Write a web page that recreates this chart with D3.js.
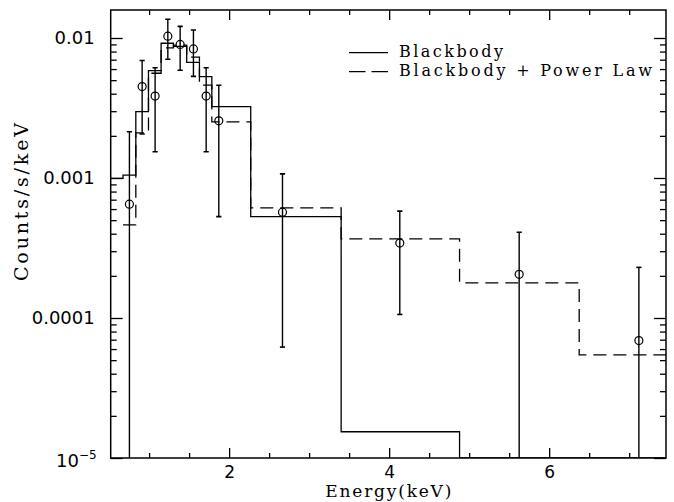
<!DOCTYPE html>
<html>
<head>
<meta charset="utf-8">
<script src="https://cdn.jsdelivr.net/npm/d3@7"></script>
<style>
    body { margin: 0; background: #fff; }
    svg { display: block; }
    .tick text { fill: #000; }
</style>
</head>
<body>
<div id="chartcontainer"></div>
<script>
/**
 * X-ray spectrum with blackbody / blackbody + power law fits
 */

// observed spectrum (keV, counts/s/keV)
var energy = [0.754, 0.913, 1.075, 1.234, 1.388, 1.554, 1.713, 1.871, 2.667, 4.133, 5.625, 7.121];
var counts = [6.5e-4, 4.5e-3, 3.85e-3, 1.03e-2, 9.0e-3, 8.35e-3, 3.85e-3, 2.56e-3, 5.7e-4, 3.43e-4, 2.05e-4, 6.9e-5];
var errHigh = [2.14e-3, 6.9e-3, 6.13e-3, 1.36e-2, 1.21e-2, 1.14e-2, 6.13e-3, 4.6e-3, 1.07e-3, 5.8e-4, 4.1e-4, 2.3e-4];
var errLow = [1e-6, 2.06e-3, 1.54e-3, 7.05e-3, 5.88e-3, 5.32e-3, 1.54e-3, 5.3e-4, 6.2e-5, 1.06e-4, 1e-6, 1e-6];

// model histograms (bin edges in keV)
var binEdges = [0.514, 0.674, 0.834, 0.992, 1.15, 1.304, 1.47, 1.629, 1.784, 2.27, 3.4, 4.88, 6.375, 7.87];
var blackbody = [9.95e-4, 1.05e-3, 2.98e-3, 5.85e-3, 9.17e-3, 8.7e-3, 6.7e-3, 5.3e-3, 3.23e-3, 5.3e-4, 1.54e-5, 1e-7, 1e-7];
var bbPowerLaw = [null, 4.62e-4, 2.1e-3, 5.6e-3, 8.5e-3, 8.9e-3, 7.3e-3, 4.6e-3, 2.52e-3, 6.11e-4, 3.67e-4, 1.78e-4, 5.45e-5];

// axis ticks
var xMajor = [2, 4, 6];
var xMinor = [1, 1.5, 2.5, 3, 3.5, 4.5, 5, 5.5, 6.5, 7];
var yMajor = [1e-5, 1e-4, 1e-3, 1e-2];
var yLabels = ["10", "0.0001", "0.001", "0.01"];

var legendNames = ["Blackbody", "Blackbody + Power Law"];

var margin = { top: 10, right: 8, bottom: 44, left: 110.7 },
    width = 674 - margin.left - margin.right,
    height = 502 - margin.top - margin.bottom;

var x = d3.scaleLinear().domain([0.52, 7.46]).range([0, width]);
var y = d3.scaleLog().domain([1e-5, Math.pow(10, -1.8)]).range([height, 0]).clamp(true);

var svg = d3.select("#chartcontainer").append("svg")
    .attr("width", 674)
    .attr("height", 502)
    .append("g")
    .attr("transform", "translate(" + margin.left + "," + margin.top + ")");

svg.append("clipPath").attr("id", "plotclip")
    .append("rect").attr("width", width).attr("height", height);

/**
 * Minor ticks of a log axis: 2..9 within each decade
 */
function minorLogTicks() {
    var out = [];
    yMajor.forEach(function (d) {
        for (var k = 2; k <= 9; k++) {
            if (d * k < y.domain()[1]) out.push(d * k);
        }
    });
    return out;
}

function drawTicks(axis, tx, ty, values, size) {
    var g = svg.append("g")
        .attr("transform", "translate(" + tx + "," + ty + ")")
        .call(axis.tickValues(values).tickSize(size).tickFormat(""));
    g.select(".domain").remove();
    g.selectAll(".tick line").attr("stroke", "#000").attr("stroke-width", 1.3);
}

function drawAxes() {
    drawTicks(d3.axisTop(x), 0, height, xMajor, 10);
    drawTicks(d3.axisTop(x), 0, height, xMinor, 5);
    drawTicks(d3.axisBottom(x), 0, 0, xMajor, 10);
    drawTicks(d3.axisBottom(x), 0, 0, xMinor, 5);
    drawTicks(d3.axisRight(y), 0, 0, yMajor, 12);
    drawTicks(d3.axisRight(y), 0, 0, minorLogTicks(), 6);
    drawTicks(d3.axisLeft(y), width, 0, yMajor, 12);
    drawTicks(d3.axisLeft(y), width, 0, minorLogTicks(), 6);

    svg.append("rect")
        .attr("width", width).attr("height", height)
        .attr("fill", "none").attr("stroke", "#000").attr("stroke-width", 1.5);

    // x labels
    var xl = svg.append("g")
        .attr("transform", "translate(0," + height + ")")
        .call(d3.axisBottom(x).tickValues(xMajor).tickSize(0).tickPadding(8)
            .tickFormat(d3.format("d")));
    xl.select(".domain").remove();
    xl.selectAll("text")
        .style("font-family", "DejaVu Sans").style("font-size", "17px");

    // y labels
    var yl = svg.append("g")
        .call(d3.axisLeft(y).tickValues(yMajor.slice(1)).tickSize(0).tickPadding(16)
            .tickFormat(function (d) { return yLabels[yMajor.indexOf(d)]; }));
    yl.select(".domain").remove();
    yl.selectAll("text")
        .style("font-family", "DejaVu Sans").style("font-size", "18px");

    // 10^-5 with superscript
    var lo = svg.append("text")
        .attr("x", -14)
        .attr("y", y(yMajor[0]) + 2)
        .attr("dominant-baseline", "central")
        .attr("text-anchor", "end")
        .style("font-family", "DejaVu Sans").style("font-size", "18px");
    lo.append("tspan").text(yLabels[0]);
    lo.append("tspan").attr("dy", -5).style("font-size", "12px").text("\u22125");

    svg.append("text")
        .attr("x", width / 2)
        .attr("y", height + 39)
        .attr("text-anchor", "middle")
        .attr("textLength", 126)
        .style("font-family", "DejaVu Serif").style("font-size", "17px")
        .text("Energy(keV)");

    svg.append("text")
        .attr("transform", "translate(" + (-83) + "," + 192 + ") rotate(-90)")
        .attr("text-anchor", "middle")
        .attr("textLength", 158)
        .style("font-family", "DejaVu Serif").style("font-size", "19px")
        .text("Counts/s/keV");
}

/**
 * Step histogram path through the bin edges
 */
function drawModel(values, dash) {
    var pts = [];
    values.forEach(function (v, i) {
        if (v !== null) pts.push([binEdges[i], v]);
    });
    pts.push([binEdges[values.length], values[values.length - 1]]);

    var line = d3.line()
        .x(function (d) { return x(d[0]); })
        .y(function (d) { return y(d[1]); })
        .curve(d3.curveStepAfter);

    svg.append("path")
        .attr("clip-path", "url(#plotclip)")
        .attr("d", line(pts))
        .attr("fill", "none")
        .attr("stroke", "#000")
        .attr("stroke-width", 1.3)
        .attr("stroke-dasharray", dash);
}

function drawData() {
    var g = svg.append("g").attr("clip-path", "url(#plotclip)");
    var cap = 2.6;

    energy.forEach(function (e, i) {
        var cx = x(e);
        g.append("line")
            .attr("x1", cx).attr("x2", cx)
            .attr("y1", y(errHigh[i])).attr("y2", y(errLow[i]))
            .attr("stroke", "#000").attr("stroke-width", 1.4);
        g.append("line")
            .attr("x1", cx - cap).attr("x2", cx + cap)
            .attr("y1", y(errHigh[i])).attr("y2", y(errHigh[i]))
            .attr("stroke", "#000").attr("stroke-width", 1.6);
        if (errLow[i] > y.domain()[0]) {
            g.append("line")
                .attr("x1", cx - cap).attr("x2", cx + cap)
                .attr("y1", y(errLow[i])).attr("y2", y(errLow[i]))
                .attr("stroke", "#000").attr("stroke-width", 1.6);
        }
        g.append("circle")
            .attr("cx", cx).attr("cy", y(counts[i]))
            .attr("r", 4)
            .attr("fill", "none")
            .attr("stroke", "#000").attr("stroke-width", 1.2);
    });
}

function drawLegend() {
    var lx = 349 - margin.left, rows = [52.7, 71.7], dashes = [null, "16.5,6"];
    var widths = [104, 253];
    legendNames.forEach(function (name, i) {
        var ly = rows[i] - margin.top;
        svg.append("line")
            .attr("x1", lx).attr("x2", lx + 39)
            .attr("y1", ly).attr("y2", ly)
            .attr("stroke", "#000").attr("stroke-width", 1.3)
            .attr("stroke-dasharray", dashes[i]);
        svg.append("text")
            .attr("x", lx + 50)
            .attr("y", ly + 4.5)
            .attr("textLength", widths[i])
            .style("font-family", "DejaVu Serif").style("font-size", "16px")
            .text(name);
    });
}

drawModel(blackbody, null);
drawModel(bbPowerLaw, "13,7");
drawData();
drawAxes();
drawLegend();
</script>
</body>
</html>
